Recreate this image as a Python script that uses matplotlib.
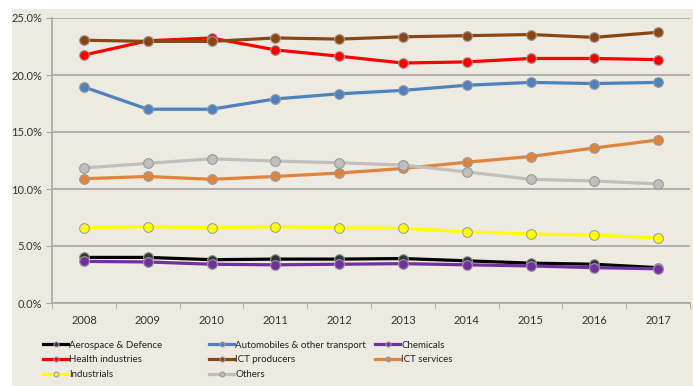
import matplotlib.pyplot as plt
from matplotlib.patches import Rectangle
from matplotlib.ticker import FuncFormatter, MultipleLocator
import numpy as np

plt.rcParams['font.family'] = ['Lato', 'DejaVu Sans']

years = [2008, 2009, 2010, 2011, 2012, 2013, 2014, 2015, 2016, 2017]

aerospace = [4.0, 4.0, 3.8, 3.85, 3.85, 3.9, 3.7, 3.5, 3.4, 3.1]
automobiles = [18.95, 17.0, 17.0, 17.9, 18.35, 18.65, 19.1, 19.35, 19.25, 19.35]
chemicals = [3.65, 3.6, 3.4, 3.35, 3.4, 3.45, 3.35, 3.25, 3.1, 3.0]
health = [21.75, 23.0, 23.25, 22.2, 21.65, 21.05, 21.15, 21.45, 21.45, 21.35]
ict_producers = [23.05, 22.95, 22.95, 23.25, 23.15, 23.35, 23.45, 23.55, 23.3, 23.75]
ict_services = [10.9, 11.1, 10.85, 11.1, 11.4, 11.8, 12.35, 12.85, 13.6, 14.3]
industrials = [6.6, 6.7, 6.6, 6.7, 6.6, 6.55, 6.25, 6.05, 5.95, 5.7]
others = [11.85, 12.25, 12.65, 12.45, 12.3, 12.1, 11.5, 10.85, 10.7, 10.45]

series = [
    ('Aerospace & Defence', aerospace, '#000000', '#333333'),
    ('Automobiles & other transport', automobiles, '#4F81BD', '#4F81BD'),
    ('Chemicals', chemicals, '#7030A0', '#7030A0'),
    ('Health industries', health, '#FF0000', '#FF0000'),
    ('ICT producers', ict_producers, '#8B4513', '#8B4513'),
    ('ICT services', ict_services, '#E0843C', '#E0843C'),
    ('Industrials', industrials, '#FFFF00', '#FFFF00'),
    ('Others', others, '#BFBFBF', '#BFBFBF'),
]

bg = '#EDEAE2'
fig = plt.figure(figsize=(6.93, 3.86), dpi=100)
fig.patch.set_facecolor('white')
fig.patches.append(Rectangle((12 / 693, 0), 1, 1 - 9 / 386, transform=fig.transFigure,
                             facecolor=bg, edgecolor='none', zorder=-10))

ax = fig.add_axes([52 / 693, 1 - 303 / 386, (690 - 52) / 693, (303 - 18) / 386])
ax.set_facecolor(bg)

x = np.arange(len(years))
lines = {}
for name, vals, col, mfc in series:
    edge = '#A0A0A0' if name == 'Industrials' else '#9A9A9A'
    ln, = ax.plot(x, vals, color=col, lw=2.3, marker='o', ms=7, mfc=mfc,
                  mec=edge, mew=0.8, label=name, zorder=3)
    lines[name] = ln

ax.set_xlim(-0.5, len(years) - 0.5)
ax.set_ylim(0, 25)
ax.yaxis.set_major_locator(MultipleLocator(5))
ax.yaxis.set_major_formatter(FuncFormatter(lambda v, p: f'{v:.1f}%'))
ax.grid(axis='y', color='#A6A6A6', lw=1.2)
ax.set_axisbelow(True)
ax.set_xticks(x)
ax.set_xticklabels([str(y) for y in years])
ax.set_xticks(np.arange(-0.5, len(years)), minor=True)
ax.tick_params(axis='x', which='major', length=0, pad=9, labelsize=8, colors='#333333')
ax.tick_params(axis='x', which='minor', length=4, color='#A6A6A6')
ax.tick_params(axis='y', length=4, color='#A6A6A6', labelsize=8, colors='#333333', pad=3)
for s in ['top', 'right']:
    ax.spines[s].set_visible(False)
for s in ['left', 'bottom']:
    ax.spines[s].set_color('#A6A6A6')
    ax.spines[s].set_linewidth(1.2)

cols = [
    ['Aerospace & Defence', 'Health industries', 'Industrials'],
    ['Automobiles & other transport', 'ICT producers', 'Others'],
    ['Chemicals', 'ICT services'],
]
col_x = [38 / 693, 204 / 693, 370 / 693]
for cx, names in zip(col_x, cols):
    leg = fig.legend([lines[n] for n in names], names, loc='upper left',
                     bbox_to_anchor=(cx, 1 - 336 / 386), frameon=False,
                     fontsize=7, handlelength=2.6, handletextpad=0.1,
                     labelspacing=0.58, borderpad=0, markerscale=0.5)
    for t in leg.get_texts():
        t.set_color('#222222')

fig.savefig('out.png', dpi=100, facecolor=fig.get_facecolor())
